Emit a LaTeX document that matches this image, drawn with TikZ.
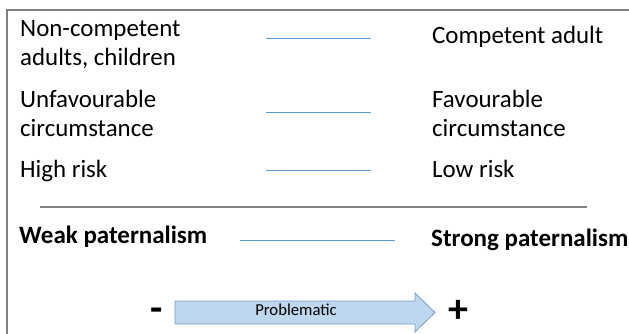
\documentclass[tikz,border=0pt]{standalone}
\usepackage{fontspec}
\setmainfont{Carlito}
\definecolor{framegray}{RGB}{128,128,128}
\definecolor{lineblue}{RGB}{91,155,213}
\definecolor{arrowfill}{RGB}{189,215,238}
\definecolor{arrowdraw}{RGB}{120,158,205}
\begin{document}
\begin{tikzpicture}[x=1pt,y=-1pt,
  txt/.style={anchor=base west, inner sep=0pt, font=\fontsize{24.9}{29.5}\selectfont},
  btxt/.style={anchor=base west, inner sep=0pt, font=\fontsize{25}{29.5}\selectfont\bfseries},
  scaleline/.style={draw=lineblue, line width=1pt},
  sepline/.style={draw=framegray, line width=1.3pt},
  sign/.style={anchor=base, inner sep=0pt, font=\fontsize{40}{44}\selectfont\bfseries}]
\useasboundingbox (0,0) rectangle (629,333);
% frame
\draw[framegray, line width=1.5pt] (7,340) -- (7,10) -- (640,10);
% left column
\node[txt] (l1a) at (20,36) {Non-competent};
\node[txt] (l1b) at (20,65) {adults, children};
\node[txt] (l2a) at (20,107) {Unfavourable};
\node[txt] (l2b) at (20,136) {circumstance};
\node[txt] (l3) at (20,177) {High risk};
% right column
\node[txt] (r1) at (432,43) {Competent adult};
\node[txt] (r2a) at (432,107) {Favourable};
\node[txt] (r2b) at (432,136) {circumstance};
\node[txt] (r3) at (432,177) {Low risk};
% scale lines
\coordinate (a1) at (266,38.3);  \coordinate (b1) at (371,38.3);
\coordinate (a2) at (266,112.7); \coordinate (b2) at (371,112.7);
\coordinate (a3) at (266,170.7); \coordinate (b3) at (371,170.7);
\draw[scaleline] (a1) -- (b1);
\draw[scaleline] (a2) -- (b2);
\draw[scaleline] (a3) -- (b3);
% separator
\coordinate (s1) at (40,207); \coordinate (s2) at (587,207);
\draw[sepline] (s1) -- (s2);
% paternalism
\node[btxt] (weak) at (19,243) {Weak paternalism};
\node[btxt] (strong) at (431,246) {Strong paternalism};
\coordinate (a4) at (240,240); \coordinate (b4) at (395,240);
\draw[scaleline] (a4) -- (b4);
% arrow
\draw[arrowdraw, fill=arrowfill, line width=0.8pt]
  (175,301) -- (415,301) -- (415,293) -- (435,312.5) -- (415,332) -- (415,324) -- (175,324) -- cycle;
\node[anchor=base, inner sep=0pt, font=\fontsize{16.7}{20}\selectfont] (prob) at (296,315) {Problematic};
\node[sign] (minus) at (157,321) {-};
\node[sign] (plus) at (458,322.5) {+};
\end{tikzpicture}
\end{document}
